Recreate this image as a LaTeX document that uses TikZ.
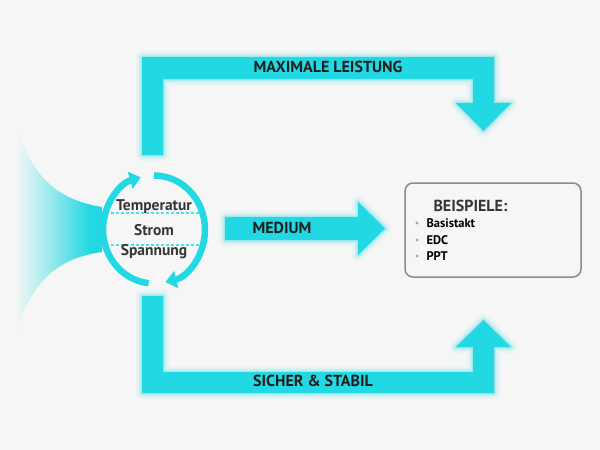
\documentclass[tikz,border=0pt]{standalone}
\usepackage{fontspec}
\setmainfont{PT Sans}
\usetikzlibrary{arrows.meta, positioning, calc}

\definecolor{flow}{RGB}{34,216,226}
\definecolor{paper}{RGB}{246,246,246}
\definecolor{ink}{RGB}{30,30,30}
\pgfdeclarehorizontalshading{funnelfade}{100bp}{color(0bp)=(paper);
	color(25bp)=(paper); color(46bp)=(flow!45!paper); color(68bp)=(flow);
	color(100bp)=(flow)}

\tikzset{
	band/.style={fill=flow,
		preaction={draw=flow, draw opacity=0.07, line width=12, line join=round},
		preaction={draw=flow, draw opacity=0.12, line width=7, line join=round},
		preaction={draw=flow, draw opacity=0.25, line width=3, line join=round}},
	bandlabel/.style={font=\bfseries\fontsize{16}{16}\selectfont, text=ink},
	ringlabel/.style={font=\bfseries\fontsize{15.5}{15.5}\selectfont, text=ink!90},
	ringarc/.style={draw=flow, line width=6.5, -{Triangle[length=11,width=17]}},
	split/.style={draw=flow!80, line width=1.1, dash pattern=on 3pt off 2pt},
	item/.style={anchor=west, font=\bfseries\fontsize{12.5}{12.5}\selectfont, text=black},
}

\begin{document}
\begin{tikzpicture}[x=1pt, y=-1pt]
	\fill[paper] (0,0) rectangle (600,450);
	\useasboundingbox (0,0) rectangle (600,450);

	% funnel into the ring
	\shade[shading=funnelfade]
		(102,207) .. controls (60,200) and (32,180) .. (15,122)
		-- (15,336)
		.. controls (32,278) and (60,258) .. (102,252) -- cycle;

	% bands
	\path[band] (142,155) -- (142,57) -- (494,57) -- (494,103) -- (511,103)
		-- (483.5,131) -- (456,103) -- (473,103) -- (473,79) -- (163,79)
		-- (163,155) -- cycle;
	\path[band] (142,296) -- (163,296) -- (163,372) -- (473,372) -- (473,347)
		-- (456,347) -- (483.5,320) -- (511,347) -- (494,347) -- (494,393)
		-- (142,393) -- cycle;
	\path[band] (225,217) -- (358,217) -- (358,202) -- (385,228.5)
		-- (358,255) -- (358,240) -- (225,240) -- cycle;

	\node[bandlabel] (max) at (328,67) {MAXIMALE LEISTUNG};
	\node[bandlabel] (safe) at (313,381) {SICHER \& STABIL};
	\node[bandlabel] (mid) at (282,228) {MEDIUM};

	% ring
	\coordinate (ring) at (154,229.5);
	\fill[paper] (ring) ellipse[x radius=48, y radius=51];
	\draw[split] ($(ring)+(-48,-16.5)$) -- ($(ring)+(48,-16.5)$);
	\draw[split] ($(ring)+(-48,15.5)$) -- ($(ring)+(48,15.5)$);
	\draw[ringarc] (ring) ++(-90:{51 and 54})
		arc[start angle=-90, end angle=77, x radius=51, y radius=54];
	\draw[ringarc] (ring) ++(96:{51 and 54})
		arc[start angle=96, end angle=255, x radius=51, y radius=54];
	\node[ringlabel] (temp) at (154,206.5) {Temperatur};
	\node[ringlabel] (strom) at (154,230) {Strom};
	\node[ringlabel] (spann) at (154,252) {Spannung};

	% examples
	\node[draw=black!45, line width=1.5, rounded corners=8, fill=paper,
		minimum width=176, minimum height=94] (box) at (493,230) {};
	\node[bandlabel, anchor=west, text=ink!90] (title) at (430,206) {BEISPIELE:};
	\foreach \name/\y in {Basistakt/223, EDC/240, PPT/256} {
		\fill[black!35] (417,\y) circle (1.6);
		\node[item] at (423,\y) {\name};
	}
\end{tikzpicture}
\end{document}
